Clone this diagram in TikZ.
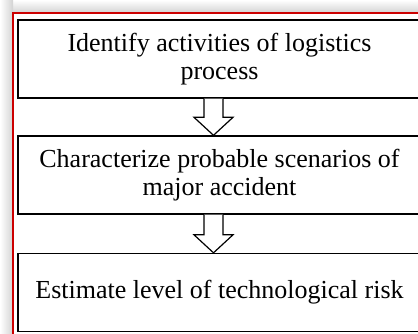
\documentclass[tikz,border=0pt]{standalone}
\usepackage{fontspec}
\setmainfont{Liberation Serif}
\usetikzlibrary{calc}

\begin{document}
\begin{tikzpicture}[x=0.5pt,y=-0.5pt,
  step box/.style={draw, line width=0.7pt, minimum width=201.5pt, minimum height=39pt,
    align=center, inner sep=0pt, font=\fontsize{13}{14.2}\selectfont},
  block arrow/.style={draw, line width=0.6pt, fill=white}]
  \useasboundingbox (0,0) rectangle (418,333);

  % frame with shadow
  \shade[top color=white, bottom color=gray!35] (0,0) rectangle (430,13);
  \shade[left color=white, right color=gray!35] (0,0) rectangle (13,345);
  \draw[red!80!black, line width=0.9pt] (13,345) -- (13,13) -- (430,13);

  \node[step box] (b1) at (219.5,59) {Identify activities of logistics\\process};
  \node[step box] (b2) at (219.5,175) {Characterize probable scenarios of\\major accident};
  \node[step box] (b3) at (219.5,292.5) {Estimate level of technological risk};

  \draw[block arrow] ($(b1.south)+(-15.5,0)$) |- ($(b2.north)+(-25.5,-18)$)
    -- ($(b2.north)+(-6,0)$) -- ($(b2.north)+(13.5,-18)$) -| ($(b1.south)+(3.5,0)$);
  \draw[block arrow] ($(b2.south)+(-15.5,0)$) |- ($(b3.north)+(-25.5,-18)$)
    -- ($(b3.north)+(-6,0)$) -- ($(b3.north)+(13.5,-18)$) -| ($(b2.south)+(3.5,0)$);
\end{tikzpicture}
\end{document}
